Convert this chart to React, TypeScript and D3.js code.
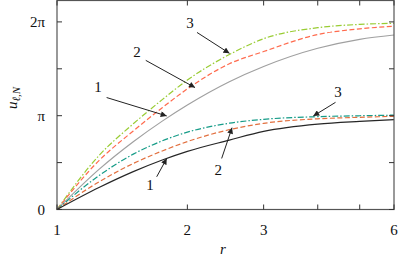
import React from "react";
import * as d3 from "d3";

const rValues = [1, 1.25, 1.5, 1.75, 2, 2.5, 3, 4, 5, 6];
// lower group (tends to pi)
const lowerL1 = [0, 0.735, 1.267, 1.657, 1.947, 2.324, 2.616, 2.86, 2.952, 3.01];
const lowerL2 = [0, 0.924, 1.541, 1.96, 2.275, 2.673, 2.886, 3.038, 3.088, 3.122];
const lowerL3 = [0, 1.134, 1.854, 2.3, 2.59, 2.89, 3.02, 3.11, 3.14, 3.16];
// upper group (tends to 2 pi)
const upperL1 = [0, 1.344, 2.27, 2.96, 3.5, 4.28, 4.79, 5.4, 5.7, 5.845];
const upperL2 = [0, 1.638, 2.63, 3.41, 4.04, 4.88, 5.29, 5.86, 6.05, 6.14];
const upperL3 = [0, 1.806, 2.87, 3.68, 4.335, 5.19, 5.72, 6.089, 6.2, 6.235];

const xTickValues = [1, 2, 3, 4, 5, 6];
const xTickLabels = ["1", "2", "3", "", "", "6"];
const yTickValues = [0, Math.PI / 2, Math.PI, (3 * Math.PI) / 2, 2 * Math.PI];
const yTickLabels = ["0", "", "π", "", "2π"];

const seriesList = [
  { name: "N2 l3", values: upperL3, color: "#99cc33", dash: "6,2,1.5,2" },
  { name: "N2 l2", values: upperL2, color: "#ff6a4d", dash: "5,2.5" },
  { name: "N2 l1", values: upperL1, color: "#a0a0a0", dash: "" },
  { name: "N1 l3", values: lowerL3, color: "#169c88", dash: "6,2,1.5,2" },
  { name: "N1 l2", values: lowerL2, color: "#e2703f", dash: "5,2.5" },
  { name: "N1 l1", values: lowerL1, color: "#262626", dash: "" },
];

const annotations = [
  { label: "3", lx: 2.028, ly: 6.26, from: [2.105, 5.93], to: [2.502, 5.23] },
  { label: "2", lx: 1.53, ly: 5.26, from: [1.603, 4.995], to: [2.083, 4.083] },
  { label: "1", lx: 1.244, ly: 4.09, from: [1.302, 3.75], to: [1.792, 3.134] },
  { label: "3", lx: 4.455, ly: 3.94, from: [4.397, 3.59], to: [3.906, 3.13] },
  { label: "2", lx: 2.357, ly: 1.32, from: [2.4, 1.71], to: [2.536, 2.74] },
  { label: "1", lx: 1.64, ly: 0.82, from: [1.699, 1.096], to: [1.792, 1.71] },
];

const W = 399;
const H = 259;
const left = 57;
const right = 394;
const top = 0.5;
const bottom = 209.5;
const font = "'Liberation Serif', 'Times New Roman', 'DejaVu Serif', serif";

export default function App() {
  const x = d3.scaleLog().domain([1, 6]).range([left, right]);
  const y = d3.scaleLinear().domain([0, 7]).range([bottom, top]);
  const line = d3
    .line<number>()
    .x((_, i) => x(rValues[i]))
    .y((d) => y(d))
    .curve(d3.curveMonotoneX);

  const txt = { fontFamily: font, fill: "#111" } as React.CSSProperties;

  return (
    <svg
      width={W}
      height={H}
      style={{ position: "absolute", left: 0, top: 0, background: "#fff" }}
    >
      <defs>
        <marker
          id="ah"
          viewBox="0 0 10 10"
          refX="10"
          refY="5"
          markerWidth="7"
          markerHeight="6"
          markerUnits="userSpaceOnUse"
          orient="auto"
        >
          <path d="M0,0 L10,5 L0,10 z" fill="#222" />
        </marker>
      </defs>
      {seriesList.map((s) => (
        <path
          key={s.name}
          d={line(s.values) || ""}
          fill="none"
          stroke={s.color}
          strokeWidth={1.2}
          strokeDasharray={s.dash}
        />
      ))}
      <rect
        x={left}
        y={top}
        width={right - left}
        height={bottom - top}
        fill="none"
        stroke="#555"
        strokeWidth={1.2}
      />
      {xTickValues.map((v, i) => (
        <g key={"xt" + i}>
          <line x1={x(v)} x2={x(v)} y1={bottom} y2={bottom - 5} stroke="#333" />
          <line x1={x(v)} x2={x(v)} y1={top} y2={top + 5} stroke="#333" />
          {xTickLabels[i] && (
            <text x={x(v)} y={235} textAnchor="middle" style={{ ...txt, fontSize: 15 }}>
              {xTickLabels[i]}
            </text>
          )}
        </g>
      ))}
      {yTickValues.map((v, i) => (
        <g key={"yt" + i}>
          <line x1={left} x2={left + 5} y1={y(v)} y2={y(v)} stroke="#333" />
          <line x1={right} x2={right - 5} y1={y(v)} y2={y(v)} stroke="#333" />
          {yTickLabels[i] && (
            <text x={45} y={y(v) + 5} textAnchor="end" style={{ ...txt, fontSize: 15 }}>
              {yTickLabels[i]}
            </text>
          )}
        </g>
      ))}
      <text x={223} y={254} textAnchor="middle" style={{ ...txt, fontSize: 15, fontStyle: "italic" }}>
        r
      </text>
      <text
        transform="translate(17,98) rotate(-90)"
        textAnchor="middle"
        style={{ ...txt, fontSize: 15, fontStyle: "italic" }}
      >
        u
        <tspan style={{ fontSize: 11 }} dy={3}>
          ℓ,N
        </tspan>
      </text>
      {annotations.map((a, i) => (
        <g key={"an" + i}>
          <line
            x1={x(a.from[0])}
            y1={y(a.from[1])}
            x2={x(a.to[0])}
            y2={y(a.to[1])}
            stroke="#222"
            strokeWidth={1}
            markerEnd="url(#ah)"
          />
          <text
            x={x(a.lx)}
            y={y(a.ly) + 5}
            textAnchor="middle"
            style={{ ...txt, fontSize: 15 }}
          >
            {a.label}
          </text>
        </g>
      ))}
    </svg>
  );
}
